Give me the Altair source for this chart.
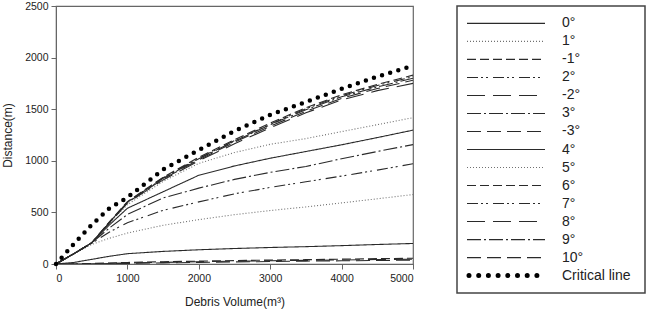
import altair as alt
import pandas as pd

# ---------------- data ----------------
volume = [0, 250, 500, 750, 1000, 1500, 2000, 2500, 3000, 3500, 4000, 4500, 5000]

angles = ["0°", "1°", "-1°", "2°", "-2°", "3°", "-3°", "4°", "5°", "6°", "7°", "8°", "9°", "10°"]

dist_p0 = [0, 15, 45, 75, 100, 122, 138, 150, 160, 168, 178, 189, 199]
dist_p1 = [0, 100, 190, 250, 300, 375, 430, 478, 518, 553, 592, 632, 673]
dist_m1 = [0, 1, 5, 10, 15, 22, 28, 33, 38, 42, 47, 52, 56]
dist_p2 = [0, 100, 200, 310, 400, 520, 602, 680, 742, 797, 852, 910, 971]
dist_m2 = [0, 1, 3, 6, 10, 16, 22, 27, 31, 35, 39, 43, 46]
dist_p3 = [0, 100, 205, 350, 480, 640, 735, 820, 888, 945, 1020, 1090, 1157]
dist_m3 = [0, 0, 2, 4, 6, 11, 16, 20, 24, 28, 31, 34, 38]
dist_p4 = [0, 100, 205, 380, 540, 700, 860, 950, 1025, 1090, 1155, 1225, 1297]
dist_p5 = [0, 100, 205, 400, 575, 800, 975, 1080, 1160, 1215, 1283, 1350, 1418]
dist_p6 = [0, 100, 205, 410, 605, 840, 1035, 1205, 1365, 1515, 1640, 1740, 1830]
dist_p7 = [0, 100, 205, 405, 600, 835, 1025, 1195, 1355, 1505, 1630, 1730, 1815]
dist_p8 = [0, 100, 205, 400, 590, 815, 1000, 1165, 1320, 1465, 1590, 1680, 1750]
dist_p9 = [0, 100, 205, 405, 600, 830, 1020, 1190, 1350, 1495, 1620, 1715, 1800]
dist_p10 = [0, 100, 205, 400, 595, 825, 1010, 1180, 1335, 1480, 1605, 1700, 1780]

critical = [0, 195, 380, 540, 645, 915, 1105, 1290, 1445, 1570, 1697, 1815, 1920]

x_ticks = [0, 1000, 2000, 3000, 4000, 5000]
y_ticks = [0, 500, 1000, 1500, 2000, 2500]

legend_labels = angles + ["Critical line"]

# ---------------- styles ----------------
SOLID = [1, 0]
DOT = [1, 2]
DASH_A = [9, 4]
DASH_DOT_DOT = [11, 3, 2, 3, 2, 5]
LONG_DASH = [18, 8]
DASH_DOT = [14, 3, 2, 3]
DASH_B = [14, 6]
dash_range = [SOLID, DOT, DASH_A, DASH_DOT_DOT, LONG_DASH, DASH_DOT, DASH_B,
              SOLID, DOT, DASH_A, DASH_DOT_DOT, LONG_DASH, DASH_DOT, DASH_B]
DARK = "#2a2a2a"
GREY = "#707070"
color_range = [DARK, GREY, DARK, DARK, DARK, DARK, DARK,
               DARK, GREY, DARK, DARK, DARK, DARK, DARK]

series = {
    "0°": dist_p0, "1°": dist_p1, "-1°": dist_m1, "2°": dist_p2, "-2°": dist_m2,
    "3°": dist_p3, "-3°": dist_m3, "4°": dist_p4, "5°": dist_p5, "6°": dist_p6,
    "7°": dist_p7, "8°": dist_p8, "9°": dist_p9, "10°": dist_p10,
}
rows = []
for a in angles:
    for v, d in zip(volume, series[a]):
        rows.append({"angle": a, "volume": v, "distance": d})
df = pd.DataFrame(rows)
crit_df = pd.DataFrame({"volume": volume, "distance": critical})

FONT = "Liberation Sans"

xscale = alt.Scale(domain=[0, 5000], nice=False)
yscale = alt.Scale(domain=[0, 2500], nice=False)

x_axis = alt.Axis(values=x_ticks, format="d", title="Debris Volume(m³)", grid=False,
                  domainColor="#666", tickColor="#666", tickSize=5,
                  labelFontSize=10.5, labelColor="#222", labelPadding=4, labelFont=FONT,
                  titleFontSize=12, titleFontWeight="normal", titleColor="#222",
                  titlePadding=13, titleFont=FONT)
y_axis = alt.Axis(values=y_ticks, format="d", title="Distance(m)", grid=False,
                  domainColor="#666", tickColor="#666", tickSize=5,
                  labelFontSize=10.5, labelColor="#222", labelPadding=3, labelFont=FONT,
                  titleFontSize=12, titleFontWeight="normal", titleColor="#222",
                  titlePadding=10, titleFont=FONT)

lines = alt.Chart(df).mark_line(strokeWidth=1.1, clip=True).encode(
    x=alt.X("volume:Q", scale=xscale, axis=x_axis),
    y=alt.Y("distance:Q", scale=yscale, axis=y_axis),
    strokeDash=alt.StrokeDash("angle:N", scale=alt.Scale(domain=angles, range=dash_range), legend=None),
    color=alt.Color("angle:N", scale=alt.Scale(domain=angles, range=color_range), legend=None),
)

crit = alt.Chart(crit_df).mark_line(strokeDash=[0, 8.5], strokeCap="round", strokeWidth=4.5,
                                    color="black", clip=False).encode(
    x=alt.X("volume:Q", scale=xscale),
    y=alt.Y("distance:Q", scale=yscale),
)

plot = alt.layer(lines, crit).properties(
    width=357, height=258,
    view=alt.ViewBackground(stroke="#666", strokeWidth=1.2),
)

# ---------------- legend panel ----------------
leg_df = pd.DataFrame({"label": legend_labels})
leg_y = alt.Y("label:N", scale=alt.Scale(type="point", domain=legend_labels, padding=0.97), axis=None)

leg_lines = alt.Chart(leg_df).transform_filter(alt.datum.label != "Critical line").mark_rule(
    strokeWidth=1.2).encode(
    x=alt.value(10), x2=alt.value(88), y=leg_y,
    strokeDash=alt.StrokeDash("label:N", scale=alt.Scale(domain=angles, range=dash_range), legend=None),
    color=alt.Color("label:N", scale=alt.Scale(domain=angles, range=color_range), legend=None),
)
leg_crit = alt.Chart(leg_df).transform_filter(alt.datum.label == "Critical line").mark_rule(
    strokeDash=[0, 9.7], strokeCap="round", strokeWidth=5, color="black").encode(
    x=alt.value(12), x2=alt.value(84), y=leg_y,
)
leg_text = alt.Chart(leg_df).mark_text(align="left", baseline="middle", fontSize=14,
                                       font=FONT, color="#222").encode(
    x=alt.value(105), y=leg_y, text="label:N",
)
legend = alt.layer(leg_lines, leg_crit, leg_text).properties(
    width=188, height=287,
    view=alt.ViewBackground(stroke="#444", strokeWidth=1.5),
)

chart = alt.hconcat(plot, legend, spacing=44, bounds="flush").properties(
    padding={"left": 1, "top": 0, "right": 0, "bottom": 0},
).resolve_scale(strokeDash="independent", color="independent", y="independent")

chart.save("out.html", embed_options={"renderer": "svg", "actions": False})
